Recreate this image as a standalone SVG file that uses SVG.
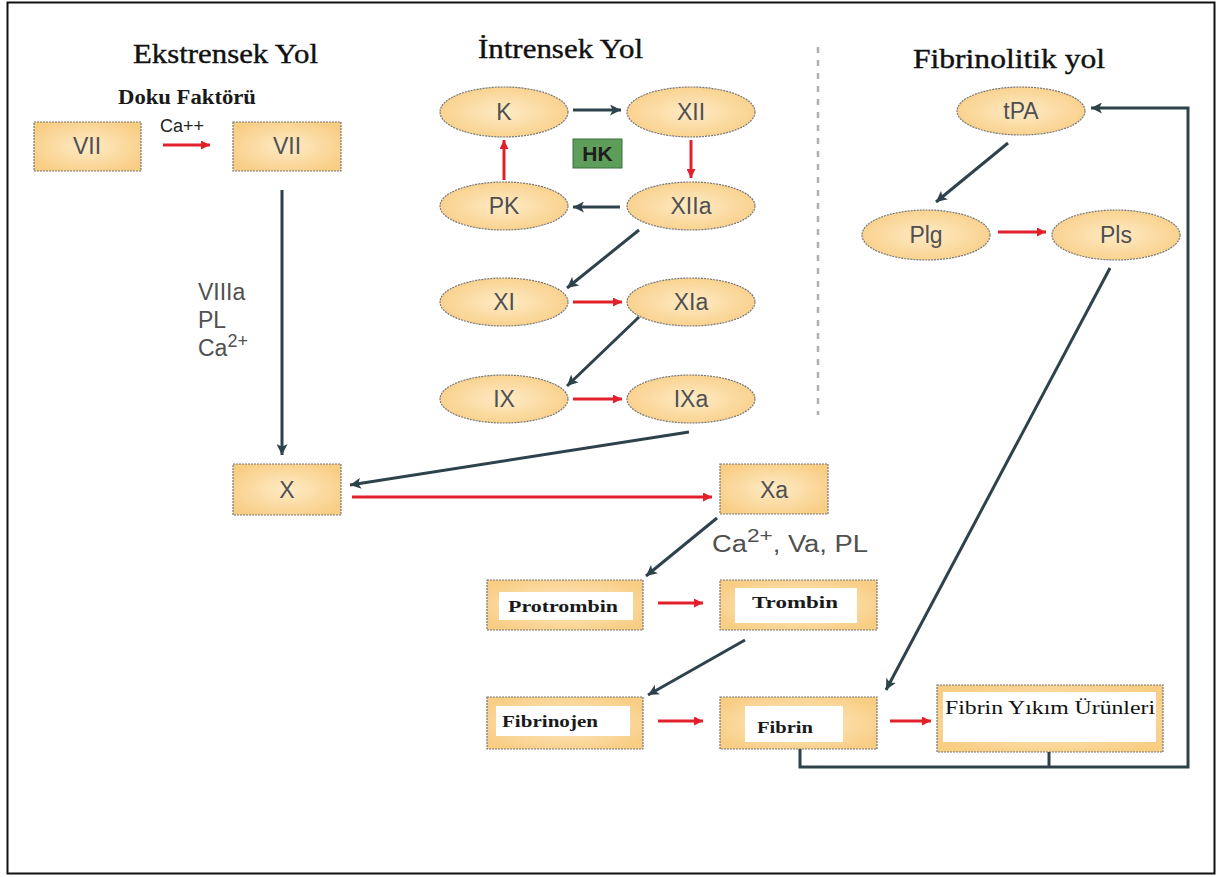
<svg xmlns="http://www.w3.org/2000/svg" width="1218" height="877" viewBox="0 0 1218 877">
  <defs>
    <radialGradient id="fillOrange" cx="50%" cy="50%" r="60%">
      <stop offset="0" stop-color="#FFEBC6"/>
      <stop offset="1" stop-color="#F8CD84"/>
    </radialGradient>
    <marker id="arrDark" viewBox="0 0 10 10" refX="10" refY="5" markerWidth="11" markerHeight="11" markerUnits="userSpaceOnUse" orient="auto">
      <path d="M0,0 L10,5 L0,10 L2.5,5 Z" fill="#2E424C"/>
    </marker>
    <marker id="arrRed" viewBox="0 0 10 10" refX="10" refY="5" markerWidth="10" markerHeight="9" markerUnits="userSpaceOnUse" orient="auto">
      <path d="M0,0 L10,5 L0,10 Z" fill="#E2202B"/>
    </marker>
    <style>
      .frame { fill: #ffffff; stroke: #111; stroke-width: 2; }
      .box { fill: url(#fillOrange); stroke: #777; stroke-width: 1.2; stroke-dasharray: 2 1; }
      .oval { fill: url(#fillOrange); stroke: #777; stroke-width: 1.2; stroke-dasharray: 2 1; }
      .inner { fill: #ffffff; }
      .lbl { font-family: "Liberation Sans", Arial, sans-serif; font-size: 23px; fill: #505050; text-anchor: middle; }
      .note { font-family: "Liberation Sans", Arial, sans-serif; font-size: 23px; fill: #505050; }
      .title { font-family: "Liberation Serif", "Times New Roman", serif; font-size: 28px; fill: #111; stroke: #111; stroke-width: 0.4; }
      .serif { font-family: "Liberation Serif", "Times New Roman", serif; fill: #111; }
      .serifb { font-family: "Liberation Serif", "Times New Roman", serif; font-weight: bold; fill: #1a1a1a; }
      .dark { fill: none; stroke: #2E424C; stroke-width: 3; marker-end: url(#arrDark); }
      .red { fill: none; stroke: #E2202B; stroke-width: 3; marker-end: url(#arrRed); }
      .plain { fill: none; stroke: #2E424C; stroke-width: 3; }
    </style>
  </defs>

  <!-- outer frame -->
  <rect class="frame" x="7.5" y="2.5" width="1207" height="871"/>

  <!-- section titles -->
  <text class="title" x="133" y="63" textLength="185" lengthAdjust="spacingAndGlyphs">Ekstrensek Yol</text>
  <text class="title" x="478" y="58" textLength="165" lengthAdjust="spacingAndGlyphs">İntrensek Yol</text>
  <text class="title" x="913" y="68" textLength="192" lengthAdjust="spacingAndGlyphs">Fibrinolitik yol</text>

  <!-- divider between coagulation and fibrinolysis -->
  <line x1="818" y1="47" x2="818" y2="415" stroke="#b0b0b0" stroke-width="2.5" stroke-dasharray="6 7"/>

  <!-- extrinsic pathway -->
  <g id="vii-a">
    <rect class="box" x="34" y="122" width="107" height="49"/>
    <text class="lbl" x="87" y="154">VII</text>
  </g>
  <g id="vii-b">
    <rect class="box" x="233" y="122" width="108" height="49"/>
    <text class="lbl" x="287" y="154">VII</text>
  </g>
  <text class="serifb" x="118" y="104" font-size="20" textLength="138" lengthAdjust="spacingAndGlyphs">Doku Faktörü</text>
  <text x="160" y="132" font-family="Liberation Sans, Arial, sans-serif" font-size="18" fill="#222">Ca++</text>
  <text class="note"><tspan x="198" y="300">VIIIa</tspan><tspan x="198" y="328">PL</tspan><tspan x="198" y="356">Ca</tspan><tspan dy="-9" font-size="18">2+</tspan></text>

  <!-- intrinsic pathway -->
  <g id="k">
    <ellipse class="oval" cx="504" cy="112" rx="64" ry="25"/>
    <text class="lbl" x="504" y="120">K</text>
  </g>
  <g id="xii">
    <ellipse class="oval" cx="691" cy="112" rx="64" ry="25"/>
    <text class="lbl" x="691" y="120">XII</text>
  </g>
  <g id="hk">
    <rect x="573" y="139" width="49" height="29" fill="#5E9E5A" stroke="#3d6e3a" stroke-width="1"/>
    <text x="597.5" y="161" font-family="Liberation Sans, Arial, sans-serif" font-size="21" font-weight="bold" fill="#1e1e1e" text-anchor="middle">HK</text>
  </g>
  <g id="pk">
    <ellipse class="oval" cx="504" cy="206" rx="64" ry="24"/>
    <text class="lbl" x="504" y="214">PK</text>
  </g>
  <g id="xiia">
    <ellipse class="oval" cx="691" cy="206" rx="64" ry="24"/>
    <text class="lbl" x="691" y="214">XIIa</text>
  </g>
  <g id="xi">
    <ellipse class="oval" cx="504" cy="302" rx="64" ry="24"/>
    <text class="lbl" x="504" y="310">XI</text>
  </g>
  <g id="xia">
    <ellipse class="oval" cx="691" cy="302" rx="64" ry="24"/>
    <text class="lbl" x="691" y="310">XIa</text>
  </g>
  <g id="ix">
    <ellipse class="oval" cx="504" cy="399" rx="64" ry="24"/>
    <text class="lbl" x="504" y="407">IX</text>
  </g>
  <g id="ixa">
    <ellipse class="oval" cx="691" cy="399" rx="64" ry="24"/>
    <text class="lbl" x="691" y="407">IXa</text>
  </g>

  <!-- common pathway -->
  <g id="x">
    <rect class="box" x="233" y="464" width="108" height="51"/>
    <text class="lbl" x="287" y="498">X</text>
  </g>
  <g id="xa">
    <rect class="box" x="720" y="464" width="108" height="50"/>
    <text class="lbl" x="774" y="498">Xa</text>
  </g>
  <text class="note" x="712" y="552" font-size="24" textLength="156" lengthAdjust="spacingAndGlyphs">Ca<tspan dy="-10" font-size="19">2+</tspan><tspan dy="10">, Va, PL</tspan></text>

  <g id="protrombin">
    <rect class="box" x="487" y="580" width="156" height="50"/>
    <rect class="inner" x="499" y="592" width="134" height="28"/>
    <text class="serifb" x="508" y="612" font-size="16" textLength="110" lengthAdjust="spacingAndGlyphs">Protrombin</text>
  </g>
  <g id="trombin">
    <rect class="box" x="720" y="580" width="157" height="50"/>
    <rect class="inner" x="735" y="588" width="122" height="35"/>
    <text class="serifb" x="752" y="608" font-size="16" textLength="86" lengthAdjust="spacingAndGlyphs">Trombin</text>
  </g>
  <g id="fibrinojen">
    <rect class="box" x="487" y="697" width="156" height="52"/>
    <rect class="inner" x="496" y="706" width="134" height="30"/>
    <text class="serifb" x="502" y="727" font-size="17" textLength="96" lengthAdjust="spacingAndGlyphs">Fibrinojen</text>
  </g>
  <g id="fibrin">
    <rect class="box" x="720" y="697" width="157" height="52"/>
    <rect class="inner" x="745" y="706" width="98" height="36"/>
    <text class="serifb" x="757" y="733" font-size="17" textLength="56" lengthAdjust="spacingAndGlyphs">Fibrin</text>
  </g>
  <g id="fibrin-yikim">
    <rect class="box" x="937" y="685" width="226" height="67"/>
    <rect class="inner" x="943" y="692" width="213" height="50"/>
    <text class="serif" x="945" y="714" font-size="18" textLength="210" lengthAdjust="spacingAndGlyphs">Fibrin Yıkım Ürünleri</text>
  </g>

  <!-- fibrinolytic pathway -->
  <g id="tpa">
    <ellipse class="oval" cx="1021" cy="111" rx="64" ry="24"/>
    <text class="lbl" x="1021" y="119">tPA</text>
  </g>
  <g id="plg">
    <ellipse class="oval" cx="926" cy="235" rx="64" ry="25"/>
    <text class="lbl" x="926" y="243">Plg</text>
  </g>
  <g id="pls">
    <ellipse class="oval" cx="1116" cy="235" rx="64" ry="25"/>
    <text class="lbl" x="1116" y="243">Pls</text>
  </g>

  <!-- connectors -->
  <g id="connectors">
    <!-- activation steps (dark) -->
    <line class="dark" x1="282" y1="190" x2="282" y2="455"/>
    <line class="dark" x1="573" y1="110" x2="621" y2="110"/>
    <line class="dark" x1="620" y1="207" x2="573" y2="207"/>
    <line class="dark" x1="639" y1="230" x2="567" y2="288"/>
    <line class="dark" x1="639" y1="317" x2="567" y2="386"/>
    <line class="dark" x1="689" y1="432" x2="350" y2="485"/>
    <line class="dark" x1="717" y1="518" x2="646" y2="576"/>
    <line class="dark" x1="745" y1="640" x2="648" y2="695"/>
    <line class="dark" x1="1008" y1="143" x2="936" y2="202"/>
    <line class="dark" x1="1110" y1="268" x2="886" y2="690"/>
    <!-- feedback from fibrin products to tPA -->
    <polyline class="dark" points="800,749 800,767 1188,767 1188,108 1091,108"/>
    <line class="plain" x1="1049" y1="752" x2="1049" y2="767"/>

    <!-- conversions (red) -->
    <line class="red" x1="163" y1="145" x2="210" y2="145"/>
    <line class="red" x1="504" y1="180" x2="504" y2="140"/>
    <line class="red" x1="691" y1="140" x2="691" y2="178"/>
    <line class="red" x1="573" y1="302" x2="622" y2="302"/>
    <line class="red" x1="573" y1="399" x2="622" y2="399"/>
    <line class="red" x1="352" y1="497" x2="712" y2="497"/>
    <line class="red" x1="998" y1="232" x2="1046" y2="232"/>
    <line class="red" x1="658" y1="603" x2="703" y2="603"/>
    <line class="red" x1="658" y1="721" x2="703" y2="721"/>
    <line class="red" x1="890" y1="721" x2="931" y2="721"/>
  </g>
</svg>
